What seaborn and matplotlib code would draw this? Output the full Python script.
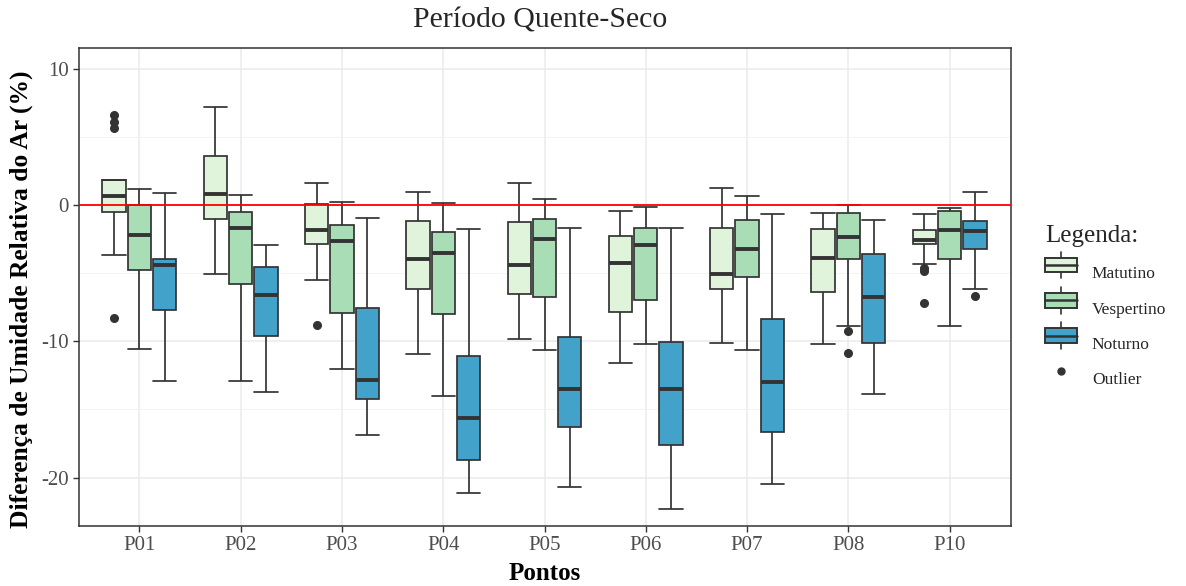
import numpy as np
import pandas as pd
import matplotlib
matplotlib.use("Agg")
import matplotlib.pyplot as plt
import seaborn as sns
from matplotlib.legend_handler import HandlerBase
from matplotlib.patches import Rectangle
from matplotlib.lines import Line2D
from matplotlib.ticker import FixedLocator

# ---------------- data ----------------
points = ["P01", "P02", "P03", "P04", "P05", "P06", "P07", "P08", "P10"]
periods = ["Matutino", "Vespertino", "Noturno"]

mat_lo  = [-3.68, -5.07, -5.51, -10.90, -9.85, -11.56, -10.15, -10.17, -4.29]
mat_q1  = [-0.46, -1.00, -2.85, -6.15, -6.51, -7.85, -6.12, -6.39, -2.82]
mat_med = [0.66, 0.83, -1.83, -3.95, -4.37, -4.24, -5.02, -3.85, -2.52]
mat_q3  = [1.83, 3.59, 0.07, -1.12, -1.20, -2.22, -1.68, -1.76, -1.79]
mat_hi  = [1.83, 7.20, 1.63, 1.00, 1.66, -0.44, 1.24, -0.54, -0.61]
mat_out = [[6.66, 6.15, 5.66, -8.29], [], [-8.78], [], [], [], [], [], [-4.62, -4.80, -7.15]]

ves_lo  = [-10.54, -12.90, -12.02, -14.00, -10.66, -10.22, -10.61, -8.83, -8.90]
ves_q1  = [-4.76, -5.80, -7.88, -7.95, -6.71, -6.95, -5.24, -3.95, -3.95]
ves_med = [-2.20, -1.66, -2.61, -3.49, -2.44, -2.90, -3.20, -2.34, -1.78]
ves_q3  = [0.05, -0.51, -1.46, -1.98, -1.00, -1.68, -1.05, -0.54, -0.44]
ves_hi  = [1.20, 0.73, 0.22, 0.15, 0.44, -0.10, 0.66, 0.00, -0.17]
ves_out = [[], [], [], [], [], [], [], [-9.24, -10.88], []]

not_lo  = [-12.90, -13.68, -16.85, -21.12, -20.66, -22.34, -20.49, -13.88, -6.12]
not_q1  = [-7.68, -9.61, -14.22, -18.71, -16.32, -17.63, -16.63, -10.12, -3.20]
not_med = [-4.39, -6.56, -12.80, -15.66, -13.46, -13.46, -12.95, -6.76, -1.90]
not_q3  = [-3.93, -4.54, -7.51, -11.05, -9.66, -10.05, -8.32, -3.54, -1.12]
not_hi  = [0.93, -2.95, -0.90, -1.71, -1.63, -1.68, -0.63, -1.05, 1.00]
not_out = [[], [], [], [], [], [], [], [], [-6.63]]

colors = ["#E0F3DB", "#A8DDB5", "#43A2CA"]
EDGE = "#333333"


def build_sample(lo, q1, med, q3, hi, out):
    """Sample whose linear-percentile quartiles and whiskers equal the given stats."""
    low = sorted(v for v in out if v < q1)
    high = sorted(v for v in out if v > q3)
    k = max(len(low), len(high)) + 1
    s = low + [lo] * (k - len(low))
    s += [q1] * k
    s += [med] * k
    s += [q3] * (k - len(high)) + [hi] + high
    return s


rows = []
series = {
    "Matutino": (mat_lo, mat_q1, mat_med, mat_q3, mat_hi, mat_out),
    "Vespertino": (ves_lo, ves_q1, ves_med, ves_q3, ves_hi, ves_out),
    "Noturno": (not_lo, not_q1, not_med, not_q3, not_hi, not_out),
}
for per, (lo, q1, md, q3, hi, out) in series.items():
    for i, p in enumerate(points):
        for v in build_sample(lo[i], q1[i], md[i], q3[i], hi[i], out[i]):
            rows.append({"Ponto": p, "Periodo": per, "Valor": v})
df = pd.DataFrame(rows)

# ---------------- figure ----------------
sns.set_theme(style="white")
plt.rcParams["font.family"] = ["Liberation Serif", "DejaVu Serif"]

fig = plt.figure(figsize=(11.86, 5.86), dpi=100)
ax = fig.add_axes([78.5 / 1186, 1 - 526 / 586, (1010.5 - 78.5) / 1186, (526 - 48) / 586])

sns.boxplot(
    data=df, x="Ponto", y="Valor", hue="Periodo",
    order=points, hue_order=periods, palette=colors, saturation=1,
    width=0.75, gap=0.08, linecolor=EDGE, linewidth=1.25,
    fliersize=5, legend=False, ax=ax,
    medianprops=dict(color=EDGE, linewidth=2.8),
    flierprops=dict(marker="o", markerfacecolor=EDGE, markeredgecolor=EDGE, markersize=5.5),
    capwidths=0.23,
)

ax.axhline(0, color="#FF0000", lw=1.3, zorder=10)

ax.set_xlim(-0.6, 8.6)
ax.set_ylim(-23.56, 11.56)
ax.set_yticks([10, 0, -10, -20])
ax.set_yticklabels(["10", "0", "-10", "-20"])
ax.yaxis.set_minor_locator(FixedLocator([5, -5, -15]))
ax.set_axisbelow(True)
ax.grid(True, which="major", color="#EBEBEB", lw=1.1)
ax.grid(True, which="minor", axis="y", color="#F2F2F2", lw=0.6)
ax.tick_params(which="minor", length=0)
ax.tick_params(which="major", length=4, width=1, color=EDGE, labelsize=15, labelcolor="#4D4D4D",
               left=True, bottom=True, pad=3)
for sp in ax.spines.values():
    sp.set_color(EDGE)
    sp.set_linewidth(1.1)

ax.set_xlabel("Pontos", fontsize=18, fontweight="bold", color="black")
ax.xaxis.set_label_coords((545 - 78.5) / 932, -(562 - 526) / 478)
ax.set_ylabel("Diferença de Umidade Relativa do Ar (%)", fontsize=18.4, fontweight="bold",
              color="black")
ax.yaxis.set_label_coords(-(78.5 - 33) / 932, (526 - 299) / 478)
fig.text(540 / 1186, 1 - 20 / 586, "Período Quente-Seco", ha="center", va="center", fontsize=21.5)


# ---------------- legend ----------------
class BoxKey(HandlerBase):
    def __init__(self, fc):
        super().__init__()
        self.fc = fc

    def create_artists(self, legend, orig_handle, xd, yd, w, h, fontsize, trans):
        cx = xd + w / 2
        top, bot = yd + h * 1.2, yd - h * 0.2
        r = Rectangle((xd, yd + h * 0.12), w, h * 0.76, facecolor=self.fc, edgecolor=EDGE,
                      lw=1.4, transform=trans)
        m = Line2D([xd, xd + w], [yd + h / 2] * 2, color=EDGE, lw=1.8, transform=trans)
        w1 = Line2D([cx, cx], [yd + h * 0.88, top], color=EDGE, lw=1.2, transform=trans)
        w2 = Line2D([cx, cx], [bot, yd + h * 0.12], color=EDGE, lw=1.2, transform=trans)
        return [w1, w2, r, m]


class DotKey(HandlerBase):
    def create_artists(self, legend, orig_handle, xd, yd, w, h, fontsize, trans):
        return [Line2D([xd + w / 2], [yd + h / 2], marker="o", color=EDGE, markersize=5,
                       linestyle="none", transform=trans)]


handles = [Rectangle((0, 0), 1, 1) for _ in range(3)] + [Line2D([], [])]
hmap = {handles[i]: BoxKey(colors[i]) for i in range(3)}
hmap[handles[3]] = DotKey()
leg = fig.legend(handles, periods + ["Outlier"], handler_map=hmap,
                 loc="upper left", bbox_to_anchor=(1045 / 1186, 1 - 225 / 586),
                 borderpad=0, borderaxespad=0,
                 frameon=False, fontsize=12.5, title="Legenda:", title_fontsize=18,
                 handlelength=1.84, handleheight=1.3, labelspacing=0.92, handletextpad=0.86)
leg._legend_box.align = "left"

fig.savefig("out.png", dpi=100)
